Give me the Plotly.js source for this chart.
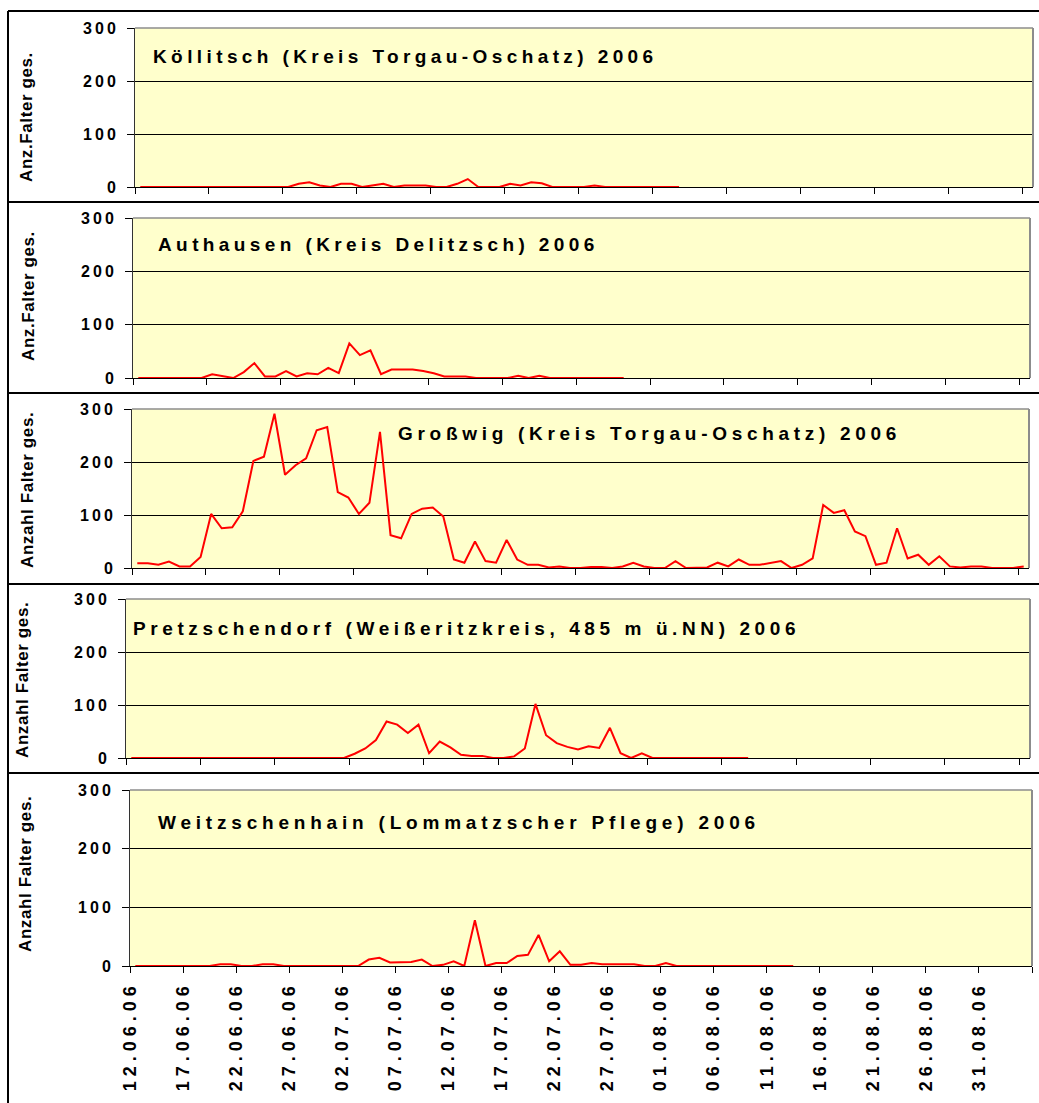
<!DOCTYPE html>
<html>
<head>
<meta charset="utf-8">
<script src="https://cdn.plot.ly/plotly-3.0.1.min.js"></script>
<style>html,body{margin:0;padding:0;background:#fff;}</style>
</head>
<body>
<div id="chart" style="width:1039px;height:1103px;"></div>
<script>
// ---- data (daily counts from 12.06.2006) ----
const koellitsch = [0,0,0,0,0,0,0,0,0,0,0,0,0,0,0,6,9,3,0,6,6,0,3,6,0,3,3,3,0,0,6,15,0,0,0,6,3,9,7,0,0,0,0,3,0,0,0,0,0,0,0,0];
const authausen = [0,0,0,0,0,0,0,7,4,0,11,28,3,3,13,3,9,7,19,9,65,43,52,7,16,16,16,13,9,3,3,3,0,0,0,0,4,0,4,0,0,0,0,0,0,0,0];
const grosswig = [9,9,6,12,3,3,21,102,75,77,107,202,210,291,176,194,207,260,266,143,133,102,123,257,62,56,102,112,114,97,16,10,50,13,10,53,16,6,6,1,3,0,0,2,2,0,3,10,3,0,0,13,0,0,1,10,3,16,6,6,9,13,0,6,18,119,104,109,69,60,6,10,75,18,25,6,22,3,1,3,3,0,0,0,3];
const pretzschendorf = [0,0,0,0,0,0,0,0,0,0,0,0,0,0,0,0,0,0,0,0,0,8,18,34,69,63,47,63,9,31,20,6,4,4,0,0,3,18,102,43,28,21,16,22,19,57,9,0,9,0,0,0,0,0,0,0,0,0,0];
const weitzschenhain = [0,0,0,0,0,0,0,0,3,3,0,0,3,3,0,0,0,0,0,0,0,0,11,14,6,7,7,11,0,2,8,0,78,0,5,5,17,19,53,8,25,2,2,5,3,3,3,3,0,0,5,0,0,0,0,0,0,0,0,0,0,0,0];

const seriesList = [koellitsch, authausen, grosswig, pretzschendorf, weitzschenhain];
const panelTitles = [
  "Köllitsch (Kreis Torgau-Oschatz) 2006",
  "Authausen (Kreis Delitzsch) 2006",
  "Großwig (Kreis Torgau-Oschatz) 2006",
  "Pretzschendorf (Weißeritzkreis, 485 m ü.NN) 2006",
  "Weitzschenhain (Lommatzscher Pflege) 2006"
];
const yTitles = ["Anz.Falter ges.", "Anz.Falter ges.", "Anzahl Falter ges.", "Anzahl Falter ges.", "Anzahl Falter ges."];
const yTickValues = [0, 100, 200, 300];
const yTickLabels = ["0", "100", "200", "300"];
const dateLabels = ["12.06.06","17.06.06","22.06.06","27.06.06","02.07.06","07.07.06","12.07.06","17.07.06","22.07.06","27.07.06","01.08.06","06.08.06","11.08.06","16.08.06","21.08.06","26.08.06","31.08.06"];
const nDays = 85;

// ---- geometry (pixels) ----
const W = 1039, H = 1103;
const panels = [
  {l:135, r:1033, t:28,  b:187, titleX:151, titleY:56,  ytX:27, ytY:117, ls:4.4},
  {l:133, r:1030, t:218, b:378, titleX:156, titleY:245, ytX:28, ytY:296, ls:4.4},
  {l:132, r:1029, t:409, b:568, titleX:396, titleY:434, ytX:28, ytY:490, ls:4.7},
  {l:126, r:1030, t:599, b:758, titleX:131, titleY:628, ytX:22, ytY:680, ls:4.6},
  {l:130, r:1032, t:790, b:966, titleX:156, titleY:822, ytX:25, ytY:874, ls:4.8}
];
const fx = p => p / W;
const fy = p => 1 - p / H;
const FONT = "Liberation Sans, Arial, Helvetica, sans-serif";
const sp = (t, s) => '<span style="letter-spacing:' + s + 'px">' + t + '</span>';

const traces = [];
const layout = {
  width: W, height: H,
  margin: {l:0, r:0, t:0, b:0},
  paper_bgcolor: "#ffffff",
  plot_bgcolor: "#FFFFCC",
  showlegend: false,
  font: {family: FONT, color: "#000"},
  annotations: [],
  shapes: []
};

panels.forEach((p, k) => {
  const n = k + 1;
  const xa = n === 1 ? "xaxis" : "xaxis" + n;
  const ya = n === 1 ? "yaxis" : "yaxis" + n;
  const data = seriesList[k];
  traces.push({
    type: "scatter", mode: "lines",
    x: data.map((_, i) => i + 0.5), y: data,
    xaxis: "x" + (n === 1 ? "" : n), yaxis: "y" + (n === 1 ? "" : n),
    line: {color: "#FF0000", width: 2},
    hoverinfo: "skip"
  });
  const last = (k === 4);
  const tv = [], tt = [];
  if (last) {
    dateLabels.forEach((d, i) => { tv.push(i * 5); tt.push(sp(d, 5)); });
    tv.push(nDays); tt.push("");
  } else {
    for (let v = 0; v <= nDays; v += 7) { tv.push(v); tt.push(""); }
  }
  layout[xa] = {
    domain: [fx(p.l), fx(p.r)],
    anchor: "y" + (n === 1 ? "" : n),
    range: [0, nDays], fixedrange: true,
    tickmode: "array", tickvals: tv, ticktext: tt,
    showticklabels: last,
    tickangle: last ? -90 : 0,
    tickfont: {family: FONT, size: 18, color: "#000", weight: "bold"},
    ticklabelstandoff: 1,
    ticks: "outside", ticklen: 6, tickwidth: 1, tickcolor: "#000",
    showgrid: false, zeroline: false,
    showline: true, linecolor: "#000", linewidth: 1,
    layer: "below traces"
  };
  layout[ya] = {
    domain: [fy(p.b), fy(p.t)],
    anchor: "x" + (n === 1 ? "" : n),
    range: [0, 300], fixedrange: true,
    tickmode: "array", tickvals: yTickValues,
    ticktext: yTickLabels.map(t => sp(t, 3)),
    tickfont: {family: FONT, size: 16, color: "#000", weight: "bold"},
    ticklabelstandoff: 5,
    ticks: "outside", ticklen: 7, tickwidth: 1, tickcolor: "#000",
    showgrid: true, gridcolor: "#000", gridwidth: 1,
    zeroline: false,
    showline: true, linecolor: "#333", linewidth: 1,
    layer: "below traces"
  };
  // gray frame (top and right)
  layout.shapes.push({type:"line", xref:"paper", yref:"paper", x0:fx(p.l), x1:fx(p.r), y0:fy(p.t), y1:fy(p.t), line:{color:"#8c8c8c", width:1.5}, layer:"above"});
  layout.shapes.push({type:"line", xref:"paper", yref:"paper", x0:fx(p.r), x1:fx(p.r), y0:fy(p.t), y1:fy(p.b), line:{color:"#8c8c8c", width:2}, layer:"above"});
  // panel title
  layout.annotations.push({
    xref:"paper", yref:"paper", x:fx(p.titleX), y:fy(p.titleY),
    xanchor:"left", yanchor:"middle", showarrow:false,
    text: sp(panelTitles[k], p.ls),
    font:{family:FONT, size:19, color:"#000", weight:"bold"}
  });
  // y axis title
  layout.annotations.push({
    xref:"paper", yref:"paper", x:fx(p.ytX), y:fy(p.ytY),
    xanchor:"center", yanchor:"middle", showarrow:false, textangle:-90,
    text: sp(yTitles[k], 0.6),
    font:{family:FONT, size:17, color:"#000", weight:"bold"}
  });
});

// outer frame and separators
const frameLine = (x0, y0, x1, y1) => ({type:"line", xref:"paper", yref:"paper", x0:fx(x0), y0:fy(y0), x1:fx(x1), y1:fy(y1), line:{color:"#000", width:2}, layer:"above"});
layout.shapes.push(frameLine(8, 11, 8, 1103));
[11, 202, 393, 584, 773].forEach(y => layout.shapes.push(frameLine(8, y, 1039, y)));

Plotly.newPlot("chart", traces, layout, {staticPlot: true, displayModeBar: false});
</script>
</body>
</html>
